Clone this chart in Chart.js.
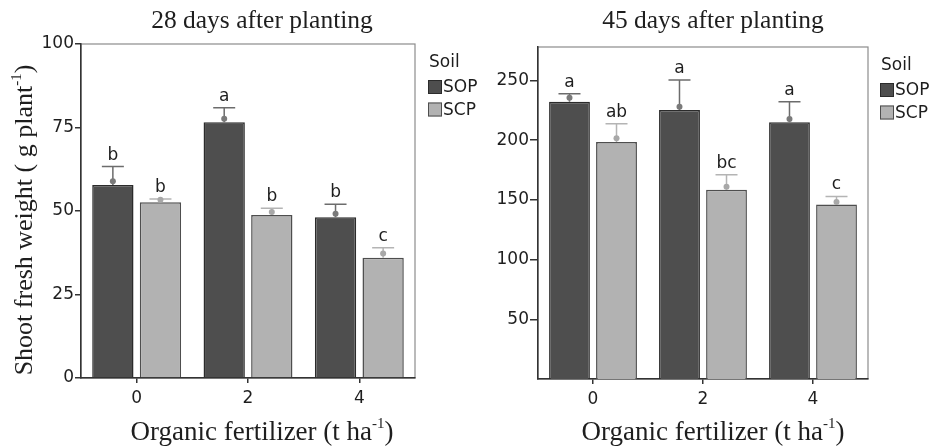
<!DOCTYPE html>
<html><head><meta charset="utf-8">
<script src="https://cdn.jsdelivr.net/npm/chart.js@4.4.1/dist/chart.umd.min.js"></script>
<style>
html,body{margin:0;padding:0;background:#fff;width:936px;height:448px;overflow:hidden;}
#c1{position:absolute;left:0;top:0;}
#c2{position:absolute;left:468px;top:0;}
</style></head><body>
<canvas id="c1" width="500" height="448"></canvas>
<canvas id="c2" width="468" height="448"></canvas>
<script>
// ---- data ----
const categories = ['0', '2', '4'];
const seriesNames = ['SOP', 'SCP'];
// 28 days after planting
const sop28 = [57.8, 76.6, 48.1];
const scp28 = [52.6, 48.8, 36.0];
const sop28ErrTop = [63.3, 80.9, 52.0];
const scp28ErrTop = [53.6, 50.8, 39.0];
const sop28Mean = [58.9, 77.6, 49.2];
const scp28Mean = [53.4, 49.7, 37.3];
const sop28Sig = ['b', 'a', 'b'];
const scp28Sig = ['b', 'b', 'c'];
const yTicks28 = [0, 25, 50, 75, 100];
// 45 days after planting
const sop45 = [232.2, 225.3, 214.9];
const scp45 = [198.4, 158.4, 146.1];
const sop45ErrTop = [238.9, 250.4, 232.2];
const scp45ErrTop = [213.8, 171.0, 152.9];
const sop45Mean = [235.5, 228.0, 217.7];
const scp45Mean = [201.5, 161.0, 148.3];
const sop45Sig = ['a', 'a', 'a'];
const scp45Sig = ['ab', 'bc', 'c'];
const yTicks45 = [50, 100, 150, 200, 250];

// ---- styles ----
const serif = '"Liberation Serif", "Times New Roman", serif';
const sans = '"DejaVu Sans", sans-serif';
const SOP_FILL = '#4e4e4e', SOP_BORDER = '#2b2b2b', SOP_ERR = '#6c6c6c', SOP_DOT = '#7a7a7a';
const SCP_FILL = '#b2b2b2', SCP_BORDER = '#4e4e4e', SCP_ERR = '#b4b4b4', SCP_DOT = '#a8a8a8';
const TXT = '#1e1e1e';

function drawRich(ctx, parts, x, y) {
  let w = 0;
  for (const p of parts) { ctx.font = p.size + 'px ' + serif; w += ctx.measureText(p.t).width; }
  let cx = x - w / 2;
  ctx.textAlign = 'left'; ctx.textBaseline = 'alphabetic';
  for (const p of parts) {
    ctx.font = p.size + 'px ' + serif;
    ctx.fillText(p.t, cx, y + (p.dy || 0));
    cx += ctx.measureText(p.t).width;
  }
}

function panelPlugin(cfg) {
  return {
    id: 'panel',
    beforeDraw(chart) {
      const ctx = chart.ctx, a = chart.chartArea;
      ctx.save();
      ctx.strokeStyle = '#8c8c8c'; ctx.lineWidth = 1.2;
      ctx.strokeRect(a.left, a.top, a.right - a.left, a.bottom - a.top);
      ctx.restore();
    },
    afterDatasetsDraw(chart) {
      const ctx = chart.ctx, ys = chart.scales.y;
      ctx.save();
      cfg.extras.forEach((s, i) => {
        const meta = chart.getDatasetMeta(i);
        meta.data.forEach((bar, j) => {
          const x = bar.x, yb = bar.y;
          const ye = ys.getPixelForValue(s.err[j]);
          const yd = ys.getPixelForValue(s.mean[j]);
          ctx.strokeStyle = s.errColor; ctx.lineWidth = 1.5;
          ctx.beginPath();
          ctx.moveTo(x, yb); ctx.lineTo(x, ye);
          ctx.moveTo(x - 11, ye); ctx.lineTo(x + 11, ye);
          ctx.stroke();
          ctx.fillStyle = s.dotColor;
          ctx.beginPath(); ctx.arc(x, yd, 3, 0, Math.PI * 2); ctx.fill();
          ctx.fillStyle = TXT; ctx.font = '17px ' + sans;
          ctx.textAlign = 'center'; ctx.textBaseline = 'alphabetic';
          ctx.fillText(s.sig[j], x, ye - 7);
        });
      });
      ctx.restore();
    },
    afterDraw(chart) {
      const ctx = chart.ctx, a = chart.chartArea;
      const cx = (a.left + a.right) / 2 + cfg.dx;
      ctx.save();
      ctx.fillStyle = TXT;
      // main title
      drawRich(ctx, [{ t: cfg.title, size: 25.5 }], cx, 28);
      // x title
      drawRich(ctx, [{ t: 'Organic fertilizer (t ha', size: 27 }, { t: '-1', size: 15, dy: -12 }, { t: ')', size: 27 }], cx, chart.height - 8);
      // y title
      if (cfg.yTitle) {
        ctx.save();
        ctx.translate(a.left - 49, (a.top + a.bottom) / 2 + 9);
        ctx.rotate(-Math.PI / 2);
        drawRich(ctx, [{ t: 'Shoot fresh weight ( g plant', size: 26 }, { t: '-1', size: 15, dy: -11 }, { t: ')', size: 26 }], 0, 0);
        ctx.restore();
      }
      // legend
      const lx = a.right + cfg.legendDx;
      ctx.font = '17px ' + sans; ctx.textAlign = 'left'; ctx.textBaseline = 'middle';
      ctx.fillStyle = TXT;
      ctx.fillText('Soil', lx + 1, a.top + 19);
      chart.data.datasets.forEach((ds, i) => {
        const by = a.top + 36 + i * 22.5;
        ctx.fillStyle = ds.backgroundColor; ctx.fillRect(lx, by, 14, 14);
        ctx.strokeStyle = ds.borderColor; ctx.lineWidth = 1;
        ctx.strokeRect(lx + 0.5, by + 0.5, 13, 13);
        ctx.fillStyle = TXT; ctx.fillText(ds.label, lx + 15, by + 8);
      });
      ctx.restore();
    }
  };
}

function makeChart(id, d) {
  return new Chart(document.getElementById(id), {
    type: 'bar',
    data: {
      labels: categories,
      datasets: [
        { label: seriesNames[0], data: d.sop, backgroundColor: SOP_FILL, borderColor: SOP_BORDER, borderWidth: 1.5, categoryPercentage: 0.855, barPercentage: 0.868 },
        { label: seriesNames[1], data: d.scp, backgroundColor: SCP_FILL, borderColor: SCP_BORDER, borderWidth: 1.5, categoryPercentage: 0.855, barPercentage: 0.868 }
      ]
    },
    options: {
      responsive: false, animation: false, devicePixelRatio: 1,
      layout: { padding: d.padding },
      plugins: { legend: { display: false }, tooltip: { enabled: false }, title: { display: false } },
      scales: {
        x: {
          afterFit: s => { s.height = d.xH; },
          grid: { offset: false, drawOnChartArea: false, tickLength: 5, color: '#333', lineWidth: 1.5 },
          border: { display: true, color: '#333', width: 1.5 },
          ticks: { font: { family: sans, size: 17 }, color: TXT, padding: 5 }
        },
        y: {
          min: 0, max: d.max,
          afterBuildTicks: s => { s.ticks = d.ticks.map(v => ({ value: v })); },
          afterFit: s => { s.width = d.yW; },
          grid: { drawOnChartArea: false, tickLength: d.tickLen, color: '#333', lineWidth: 1.5 },
          border: { display: true, color: '#333', width: 1.5 },
          ticks: { font: { family: sans, size: 17 }, color: TXT, padding: 1 }
        }
      }
    },
    plugins: [panelPlugin({
      title: d.title, dx: d.dx, yTitle: d.yTitle, legendDx: d.legendDx,
      extras: [
        { err: d.sopErr, mean: d.sopMean, sig: d.sopSig, errColor: SOP_ERR, dotColor: SOP_DOT },
        { err: d.scpErr, mean: d.scpMean, sig: d.scpSig, errColor: SCP_ERR, dotColor: SCP_DOT }
      ]
    })]
  });
}

makeChart('c1', {
  sop: sop28, scp: scp28, sopErr: sop28ErrTop, scpErr: scp28ErrTop,
  sopMean: sop28Mean, scpMean: scp28Mean, sopSig: sop28Sig, scpSig: scp28Sig,
  ticks: yTicks28, max: 100, title: '28 days after planting', dx: 14, yTitle: true,
  padding: { top: 44, right: 85, bottom: 0, left: 0 }, xH: 70, yW: 81, tickLen: 6, legendDx: 13
});
makeChart('c2', {
  sop: sop45, scp: scp45, sopErr: sop45ErrTop, scpErr: scp45ErrTop,
  sopMean: sop45Mean, scpMean: scp45Mean, sopSig: sop45Sig, scpSig: scp45Sig,
  ticks: yTicks45, max: 278, title: '45 days after planting', dx: 10, yTitle: false,
  padding: { top: 47, right: 68, bottom: 0, left: 0 }, xH: 69, yW: 70, tickLen: 8, legendDx: 12
});
</script>
</body></html>
